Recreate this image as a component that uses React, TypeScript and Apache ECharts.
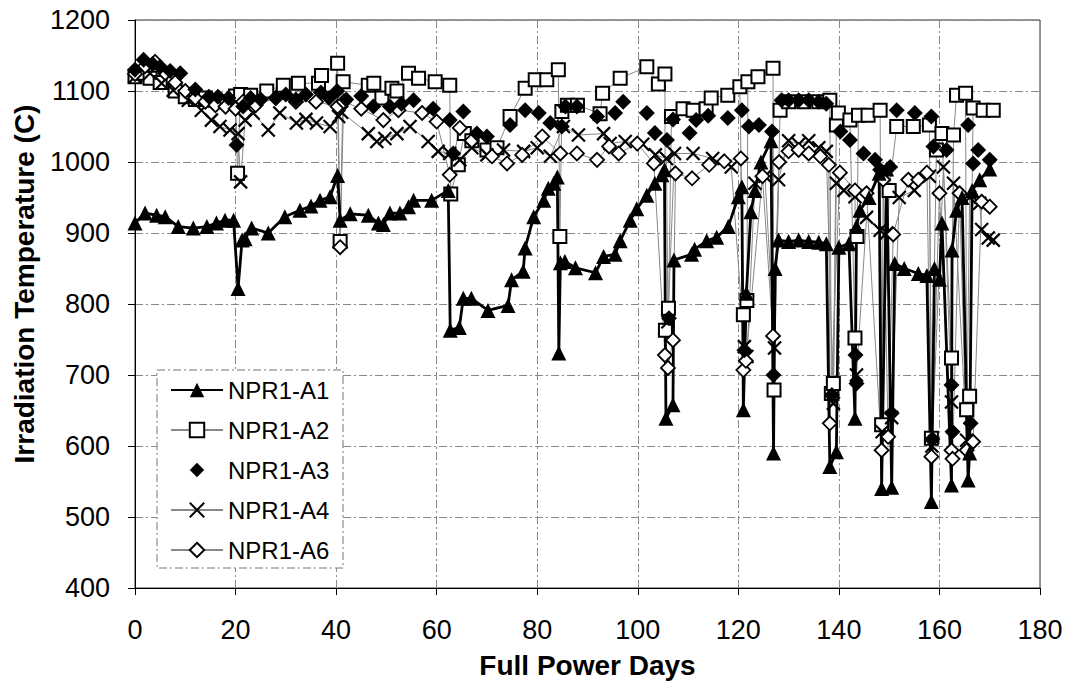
import React, { useEffect, useRef } from "react";
import * as echarts from "echarts";

const xTicks = [0, 20, 40, 60, 80, 100, 120, 140, 160, 180];
const yTicks = [400, 500, 600, 700, 800, 900, 1000, 1100, 1200];

const a1Days = [0, 2, 4.3, 6, 8.6, 11.6, 14.3, 16.2, 17.9, 19.6, 20.5, 21.3, 21.9, 23.2, 26.5, 29.8, 32.8, 35, 36.8, 38.8, 40.3, 40.8, 42.8, 46.4, 48.4, 49.4, 50.7, 52.7, 54.4, 55.4, 59, 62.3, 62.7, 64.5, 65.3, 66.9, 70.2, 74.2, 74.9, 77.2, 77.6, 79.3, 81.3, 82.2, 83.3, 84.0, 84.3, 84.6, 85.5, 87.6, 91.6, 93.2, 95.5, 96.5, 98.5, 99.8, 101.8, 103.4, 104.8, 105.3, 105.6, 107.0, 107.2, 110.7, 111.3, 113.7, 115.7, 118, 120, 120.7, 121.0, 121.6, 122.5, 123.3, 124.5, 126.5, 127.0, 127.3, 128, 130, 132, 134, 136, 137.5, 138.2, 139.5, 140, 142, 143.2, 143.5, 144.2, 146, 148.0, 148.5, 149.5, 150.5, 151.1, 153, 155.8, 157.5, 158.4, 159, 160, 160.5, 162.4, 162.5, 163.4, 164.5, 165.7, 166, 166.5, 168, 170];
const a1Temps = [914, 928, 925, 923, 909, 907, 909, 914, 918, 918, 822, 890, 892, 907, 900, 923, 932, 938, 946, 951, 981, 918, 927, 925, 914, 912, 928, 928, 937, 946, 946, 960, 763, 767, 808, 808, 791, 798, 834, 846, 879, 923, 946, 963, 970, 979, 731, 858, 860, 851, 844, 867, 870, 889, 918, 934, 953, 970, 982, 989, 639, 658, 862, 870, 877, 889, 894, 909, 951, 965, 651, 815, 930, 960, 1000, 1030, 590, 850, 890, 888, 890, 888, 887, 885, 571, 592, 880, 885, 639, 909, 932, 950, 984, 540, 990, 542, 857, 850, 843, 840, 522, 850, 835, 914, 545, 876, 932, 950, 552, 590, 960, 975, 990];

const a2Days = [0, 1.5, 3, 5, 8, 10, 12, 14, 16, 18, 20, 20.4, 21, 23, 26.2, 29.5, 32.5, 36.5, 37.1, 40.3, 40.8, 41.4, 46.4, 47.5, 49.1, 51.1, 52.1, 54.4, 56.4, 59.7, 62.6, 62.8, 64.3, 65.5, 67, 70, 72, 74.6, 77.6, 79.6, 81.9, 84.2, 84.5, 84.9, 86, 88, 92.5, 93, 96.5, 101.8, 104.1, 105.4, 105.5, 106.1, 106.7, 109, 111, 113.6, 114.6, 117.9, 120.3, 121.0, 121.7, 121.9, 123.9, 126.9, 127.1, 128.3, 130, 133, 136, 138.2, 138.5, 138.9, 139.5, 139.9, 142.2, 143.2, 143.6, 143.9, 145.8, 148.2, 148.5, 150, 151.5, 154.8, 158.0, 158.4, 159.4, 160.5, 162.4, 162.8, 163.4, 165.2, 165.4, 166, 166.7, 168.7, 170.7];
const a2Temps = [1120, 1125, 1118, 1112, 1100, 1092, 1088, 1090, 1087, 1085, 1093, 984, 1095, 1094, 1100, 1108, 1111, 1111, 1122, 1139, 888, 1113, 1108, 1111, 1090, 1104, 1100, 1125, 1118, 1113, 1108, 955, 996, 1040, 1030, 1017, 1020, 1064, 1104, 1116, 1116, 1130, 895, 1071, 1080, 1080, 1068, 1097, 1118, 1134, 1110, 1124, 763, 794, 1064, 1075, 1073, 1075, 1090, 1094, 1106, 785, 805, 1113, 1120, 1132, 679, 1073, 1085, 1085, 1085, 1087, 674, 688, 1052, 1069, 1059, 752, 895, 1066, 1066, 1073, 630, 960, 1050, 1050, 1052, 611, 1017, 1040, 724, 1038, 1094, 1097, 651, 670, 1076, 1073, 1073];

const a3Days = [0, 1.7, 3.5, 5, 7, 9, 12, 14.7, 16.5, 18.6, 20.2, 21.5, 23, 25, 28, 30, 32, 34, 37, 38.6, 40.2, 42, 45, 47.4, 50.7, 53, 55.4, 59.3, 62.6, 63.3, 65.3, 68, 70, 74.6, 77.6, 80.3, 82.6, 84.9, 85.6, 87.9, 91.9, 95.5, 97.1, 101.8, 103.4, 105.8, 106.2, 107, 110.3, 111.6, 114, 117.9, 120.7, 121.2, 122.1, 124.1, 126.7, 127.0, 128.6, 130, 132, 134, 136, 137.5, 138.6, 140.3, 142.2, 143.3, 143.5, 144.9, 147.2, 148.2, 150.2, 150.5, 151.5, 155.1, 158.4, 158.6, 158.8, 161.4, 162.4, 162.6, 165.7, 166.2, 166.7, 167.7, 170];
const a3Temps = [1130, 1144, 1138, 1134, 1128, 1125, 1102, 1092, 1092, 1090, 1024, 1078, 1090, 1088, 1090, 1095, 1088, 1095, 1098, 1090, 1100, 1088, 1093, 1078, 1078, 1082, 1087, 1075, 1059, 1012, 1071, 1040, 1036, 1052, 1073, 1069, 1055, 1050, 1078, 1078, 1064, 1069, 1085, 1069, 1041, 1031, 780, 1060, 1041, 1059, 1065, 1062, 1073, 735, 1050, 1052, 1043, 700, 1087, 1087, 1087, 1087, 1085, 1082, 672, 1043, 1031, 728, 688, 1012, 1003, 989, 993, 646, 1073, 1069, 1064, 610, 1022, 1017, 686, 620, 1052, 632, 998, 1017, 1003];

const a4Days = [0, 3, 5.3, 7.6, 10.6, 13.2, 15.2, 16.9, 18.9, 20.5, 21.0, 21.9, 23.5, 26.5, 28.8, 32.1, 34, 36.1, 38.8, 40.5, 41.1, 46.4, 48.1, 49.7, 52.1, 54.7, 58.3, 60.3, 62.6, 64.6, 67, 70, 73.3, 77.3, 80, 82.6, 85.2, 88.2, 93.2, 94.5, 97.5, 101, 103.5, 105.7, 106, 107.3, 111, 114.9, 118.6, 121.2, 121.7, 123.3, 125.3, 127.2, 128, 130, 132, 134, 136, 137.5, 138.9, 139.5, 141, 143.2, 143.5, 145.5, 148.2, 148.6, 149.5, 150.5, 152, 155, 158, 158.5, 160.8, 162.4, 162.8, 165.4, 166, 168, 168.4, 169.7, 170.7];
const a4Temps = [1120, 1125, 1111, 1101, 1087, 1073, 1059, 1050, 1045, 1040, 972, 1059, 1069, 1045, 1069, 1055, 1060, 1055, 1050, 1064, 1070, 1040, 1029, 1033, 1040, 1050, 1029, 1015, 1012, 1003, 1020, 1010, 1017, 1015, 1020, 1008, 1050, 1038, 1040, 1026, 1029, 1025, 1010, 1005, 775, 1012, 1012, 1005, 993, 740, 726, 970, 980, 738, 975, 1030, 1025, 1030, 1020, 1015, 660, 970, 960, 951, 700, 922, 904, 620, 900, 640, 950, 960, 980, 600, 993, 662, 970, 608, 950, 942, 905, 893, 890];

const a6Days = [0, 2, 4, 6, 8, 10, 12, 14, 16, 18, 20, 21.5, 24, 28, 32, 36, 40.3, 40.8, 41.5, 45, 49.4, 52.4, 57.1, 60, 62.6, 64.6, 67, 71, 74, 77, 81, 84.6, 87.9, 91.9, 94.3, 96.2, 99.9, 103.2, 105.4, 106, 107, 107.5, 110.8, 114.2, 117.2, 120.5, 121.0, 121.5, 124.8, 126.9, 128.1, 130, 132, 134, 136.3, 138.0, 138.2, 140.2, 143.2, 145.5, 148.5, 148.8, 149.8, 150.8, 153.8, 155.8, 157.5, 158.4, 160, 162.4, 162.6, 164, 165.4, 166.7, 168.4, 170];
const a6Temps = [1124, 1135, 1141, 1125, 1112, 1100, 1090, 1085, 1080, 1078, 1075, 1085, 1080, 1090, 1085, 1085, 1078, 880, 1085, 1075, 1059, 1073, 1069, 1057, 982, 1048, 1030, 1008, 998, 1010, 1036, 1012, 1012, 1003, 1022, 1012, 1026, 998, 728, 710, 749, 984, 977, 996, 1001, 1005, 707, 720, 980, 755, 1000, 1015, 1017, 1012, 1008, 996, 632, 985, 960, 956, 594, 975, 613, 898, 975, 975, 985, 585, 956, 594, 582, 956, 594, 606, 944, 937];

const zip = (xs: number[], ys: number[]) => xs.map((x, i) => [x, ys[i]]);

const FONT = "'Liberation Sans', Arial, sans-serif";
const X_PATH = "path://M0,0 L10,10 M10,0 L0,10";
const Y_TITLE = "Irradiation Temperature (C)";

export default function App() {
  const ref = useRef<HTMLDivElement>(null);
  useEffect(() => {
    if (!ref.current) return;
    const chart = echarts.init(ref.current, undefined, { renderer: "svg" });
    const gridLine = { show: true, lineStyle: { color: "#8a8a8a", width: 1, type: [8, 3, 2, 3] } };
    chart.setOption({
      animation: false,
      backgroundColor: "#fff",
      grid: { left: 135, right: 30, top: 20, bottom: 102, show: true, borderColor: "#333", borderWidth: 1, backgroundColor: "transparent" },
      xAxis: {
        type: "value", min: xTicks[0], max: xTicks[xTicks.length - 1], interval: 20,
        name: "Full Power Days", nameLocation: "middle", nameGap: 63,
        nameTextStyle: { fontSize: 28, fontWeight: "bold", fontFamily: FONT, color: "#000" },
        axisLine: { lineStyle: { color: "#000", width: 1 } },
        axisTick: { show: true, inside: false, length: 7, lineStyle: { color: "#000" } },
        axisLabel: { fontSize: 27, fontFamily: FONT, color: "#000", margin: 28 },
        splitLine: gridLine,
      },
      yAxis: {
        type: "value", min: yTicks[0], max: yTicks[yTicks.length - 1], interval: 100,
        axisLine: { show: true, lineStyle: { color: "#000", width: 1 } },
        axisTick: { show: true, inside: false, length: 7, lineStyle: { color: "#000" } },
        axisLabel: { fontSize: 27, fontFamily: FONT, color: "#000", margin: 25, formatter: (v: number) => String(v) },
        splitLine: gridLine,
      },
      graphic: [
        {
          type: "text", x: 24, y: 284, rotation: Math.PI / 2, z: 5,
          style: { text: Y_TITLE, fontSize: 28, fontWeight: "bold", fontFamily: FONT, fill: "#000", align: "center", verticalAlign: "middle", textAlign: "center", textVerticalAlign: "middle" },
        },
        { type: "rect", z: 3, shape: { x: 157, y: 370, width: 186, height: 198 }, style: { fill: "#fff", stroke: "#777", lineWidth: 1, lineDash: [8, 3, 2, 3] } },
      ],
      legend: {
        orient: "vertical", left: 170, top: 378, itemGap: 16, itemWidth: 52, itemHeight: 18, padding: 0, z: 4,
        textStyle: { fontSize: 24, fontFamily: FONT, color: "#000" },
        data: ["NPR1-A1", "NPR1-A2", "NPR1-A3", "NPR1-A4", "NPR1-A6"],
      },
      series: [
        {
          name: "NPR1-A2", type: "line", data: zip(a2Days, a2Temps), symbol: "rect", symbolSize: 13,
          itemStyle: { color: "#fff", borderColor: "#000", borderWidth: 2 }, lineStyle: { color: "#888", width: 1 }, z: 2,
        },
        {
          name: "NPR1-A4", type: "line", data: zip(a4Days, a4Temps), symbol: X_PATH, symbolSize: 13,
          itemStyle: { color: "#000", borderColor: "#000", borderWidth: 2.2 }, lineStyle: { color: "#888", width: 1 }, z: 2,
        },
        {
          name: "NPR1-A6", type: "line", data: zip(a6Days, a6Temps), symbol: "diamond", symbolSize: 14,
          itemStyle: { color: "#fff", borderColor: "#000", borderWidth: 1.8 }, lineStyle: { color: "#888", width: 1 }, z: 2,
        },
        {
          name: "NPR1-A3", type: "line", data: zip(a3Days, a3Temps), symbol: "diamond", symbolSize: 16,
          itemStyle: { color: "#000" }, lineStyle: { width: 0, opacity: 0 }, z: 2,
        },
        {
          name: "NPR1-A1", type: "line", data: zip(a1Days, a1Temps), symbol: "triangle", symbolSize: 15,
          itemStyle: { color: "#000" }, lineStyle: { color: "#000", width: 2.8 }, z: 2,
        },
      ],
    });
    return () => chart.dispose();
  }, []);
  return <div ref={ref} style={{ position: "fixed", left: 0, top: 0, width: 1070, height: 690 }} />;
}
